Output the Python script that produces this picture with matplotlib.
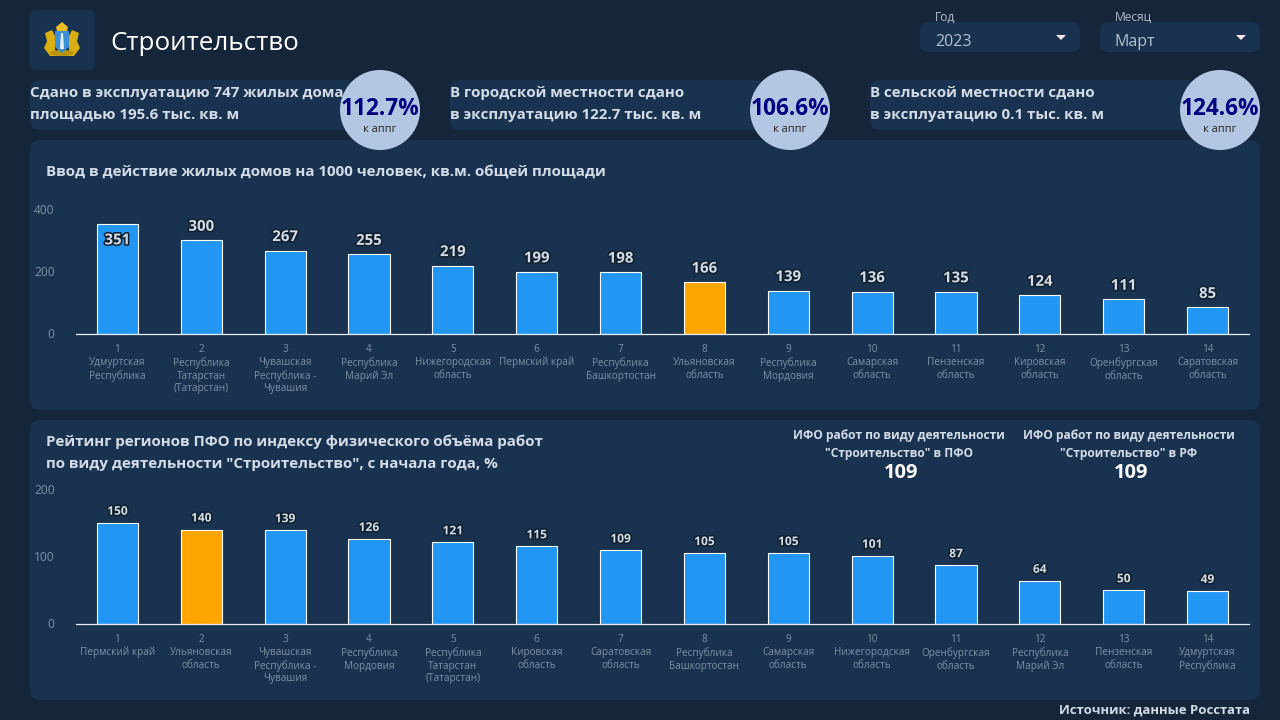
import matplotlib
matplotlib.use('Agg')
import matplotlib.pyplot as plt
import matplotlib.patheffects as pe
from matplotlib.patches import FancyBboxPatch, Circle, Polygon, Ellipse
from matplotlib.transforms import ScaledTranslation

plt.rcParams['font.family'] = ['Open Sans', 'Noto Sans', 'DejaVu Sans']

regions1 = ['Удмуртская\nРеспублика', 'Республика\nТатарстан\n(Татарстан)', 'Чувашская\nРеспублика -\nЧувашия',
            'Республика\nМарий Эл', 'Нижегородская\nобласть', 'Пермский край', 'Республика\nБашкортостан',
            'Ульяновская\nобласть', 'Республика\nМордовия', 'Самарская\nобласть', 'Пензенская\nобласть',
            'Кировская\nобласть', 'Оренбургская\nобласть', 'Саратовская\nобласть']
values1 = [351, 300, 267, 255, 219, 199, 198, 166, 139, 136, 135, 124, 111, 85]

regions2 = ['Пермский край', 'Ульяновская\nобласть', 'Чувашская\nРеспублика -\nЧувашия', 'Республика\nМордовия',
            'Республика\nТатарстан\n(Татарстан)', 'Кировская\nобласть', 'Саратовская\nобласть',
            'Республика\nБашкортостан', 'Самарская\nобласть', 'Нижегородская\nобласть', 'Оренбургская\nобласть',
            'Республика\nМарий Эл', 'Пензенская\nобласть', 'Удмуртская\nРеспублика']
values2 = [150, 140, 139, 126, 121, 115, 109, 105, 105, 101, 87, 64, 50, 49]

BG = '#15253a'
PANEL = '#19324f'
BLUE = '#2196f3'
ORANGE = '#ffa500'
LIGHT = '#d3dce6'
GREY = '#7f90a3'

fig = plt.figure(figsize=(12.8, 7.2), dpi=100, facecolor=BG)

# page layer in pixel coordinates
bg = fig.add_axes([0, 0, 1, 1], zorder=0)
bg.set_xlim(0, 1280)
bg.set_ylim(720, 0)
bg.axis('off')


def panel(x, y, w, h, r=10, color=PANEL):
    bg.add_patch(FancyBboxPatch((x + r, y + r), w - 2 * r, h - 2 * r, boxstyle=f'round,pad={r}',
                                fc=color, ec='none', zorder=1))


def px(size):
    return size * 0.72


# header
panel(30, 10, 65, 60, r=5)
gold = '#d9ae12'
bg.add_patch(Polygon([[45, 33], [52, 30], [55, 36], [55, 50], [60, 56], [50, 56], [44, 48], [47, 41]],
                     fc=gold, ec='none', zorder=2))
bg.add_patch(Polygon([[79, 33], [72, 30], [69, 36], [69, 50], [64, 56], [74, 56], [80, 48], [77, 41]],
                     fc=gold, ec='none', zorder=2))
bg.add_patch(Ellipse((62, 53), 24, 6, fc='#b8930e', ec='none', zorder=2))
bg.add_patch(Polygon([[56, 27], [62, 22], [68, 27], [67, 31], [57, 31]], fc='#e8be22', ec='none', zorder=2))
bg.add_patch(Polygon([[55, 31], [69, 31], [69, 47], [62, 53], [55, 47]], fc='#3b8fd6', ec='none', zorder=3))
bg.add_patch(Polygon([[61, 33], [63, 33], [64, 49], [60, 49]], fc='#e8eef5', ec='none', zorder=4))
bg.text(110, 43, 'Строительство', color='white', fontsize=px(26), va='center', ha='left', zorder=3)

# filters
for x0, lab, val in [(920, 'Год', '2023'), (1100, 'Месяц', 'Март')]:
    panel(x0, 22, 160, 30, r=9)
    bg.text(x0 + 15, 17, lab, color='#b4c0cd', fontsize=px(12), va='center', zorder=3)
    bg.text(x0 + 15, 42, val, color='#b4c0cd', fontsize=px(16), va='center', zorder=3)
    tx = x0 + 141
    bg.add_patch(Polygon([[tx - 5, 35], [tx + 5, 35], [tx, 40]], fc='#f4e6ee', ec='none', zorder=3))

# summary cards
cards = [(30, 'Сдано в эксплуатацию 747 жилых дома', 'площадью 195.6 тыс. кв. м', '112.7%', 380),
         (450, 'В городской местности сдано', 'в эксплуатацию 122.7 тыс. кв. м', '106.6%', 790),
         (870, 'В сельской местности сдано', 'в эксплуатацию 0.1 тыс. кв. м', '124.6%', 1220)]
for x0, l1, l2, pct, cx in cards:
    panel(x0, 80, cx - x0 - 25, 50, r=10)
    bg.text(x0, 93, l1, color=LIGHT, fontsize=px(15.1), fontweight='bold', va='center', zorder=3)
    bg.text(x0, 115, l2, color=LIGHT, fontsize=px(15.1), fontweight='bold', va='center', zorder=3)
    bg.add_patch(Circle((cx, 110), 40, fc='#b4c7e2', ec='none', zorder=4))
    bg.text(cx, 109, pct, color='#000080', fontsize=px(22.6), fontweight='bold', ha='center', va='center', zorder=5)
    bg.text(cx, 129, 'к аппг', color='#222222', fontsize=px(11), ha='center', va='center', zorder=5)

# chart panels
panel(30, 140, 1230, 270)
panel(30, 420, 1230, 280)

bg.text(46, 172, 'Ввод в действие жилых домов на 1000 человек, кв.м. общей площади',
        color=LIGHT, fontsize=px(15.1), fontweight='bold', va='center', zorder=3)
bg.text(46, 442, 'Рейтинг регионов ПФО по индексу физического объёма работ',
        color=LIGHT, fontsize=px(15.1), fontweight='bold', va='center', zorder=3)
bg.text(46, 464, 'по виду деятельности "Строительство", с начала года, %',
        color=LIGHT, fontsize=px(15.1), fontweight='bold', va='center', zorder=3)

for cx, where in [(899, 'в ПФО'), (1129, 'в РФ')]:
    bg.text(cx, 435, 'ИФО работ по виду деятельности', color=LIGHT, fontsize=px(12), fontweight='bold',
            ha='center', va='center', zorder=3)
    bg.text(cx, 453, f'"Строительство" {where}', color=LIGHT, fontsize=px(12), fontweight='bold',
            ha='center', va='center', zorder=3)
    bg.text(cx + 2, 473, '109', color='white', fontsize=px(20), fontweight='bold', ha='center', va='center', zorder=3)

bg.text(1250, 710, 'Источник: данные Росстата', color=LIGHT, fontsize=px(13.1), fontweight='bold',
        ha='right', va='center', zorder=3)


def bar_chart(top, bottom, ymax, yticks, regions, values, highlight, lab_size, lab_offset, inside=None):
    ax = fig.add_axes([75.5 / 1280, 1 - bottom / 720, (1249.5 - 75.5) / 1280, (bottom - top) / 720], zorder=2)
    ax.patch.set_alpha(0)
    pos = list(range(len(values)))
    colors = [ORANGE if i == highlight else BLUE for i in pos]
    ax.bar(pos, values, width=0.49, color=colors, edgecolor='white', linewidth=0.8)
    ax.set_xlim(-0.5, 13.5)
    ax.set_ylim(0, ymax)
    ax.set_yticks(yticks)
    ax.set_xticks(pos)
    ax.set_xticklabels([f'{i + 1}\n{r}' for i, r in zip(pos, regions)], va='top', linespacing=1.24)
    ax.tick_params(axis='y', length=0, pad=15, labelcolor=GREY, labelsize=px(12))
    ax.tick_params(axis='x', length=0, pad=7, labelcolor=GREY, labelsize=px(10))
    up = ScaledTranslation(0, 0.5 / 100, fig.dpi_scale_trans)
    for lab in ax.get_yticklabels():
        lab.set_transform(lab.get_transform() + up)
    for s in ['top', 'left', 'right']:
        ax.spines[s].set_visible(False)
    ax.spines['bottom'].set_color('#e6edf5')
    ax.spines['bottom'].set_linewidth(0.9)
    stroke = [pe.withStroke(linewidth=2.2, foreground='#10202f')]
    for i, v in zip(pos, values):
        off = -16 if i == inside else lab_offset
        ax.annotate(str(v), (i, v), xytext=(0, off), textcoords='offset pixels', ha='center', va='center',
                    color=LIGHT, fontsize=px(lab_size), fontweight='bold', path_effects=stroke, zorder=5)
    return ax


bar_chart(209, 334, 400, [0, 200, 400], regions1, values1, 7, 15, 13.5, inside=0)
bar_chart(489, 624, 200, [0, 100, 200], regions2, values2, 1, 12, 11.5)

fig.savefig('out.png', dpi=100, facecolor=BG)
